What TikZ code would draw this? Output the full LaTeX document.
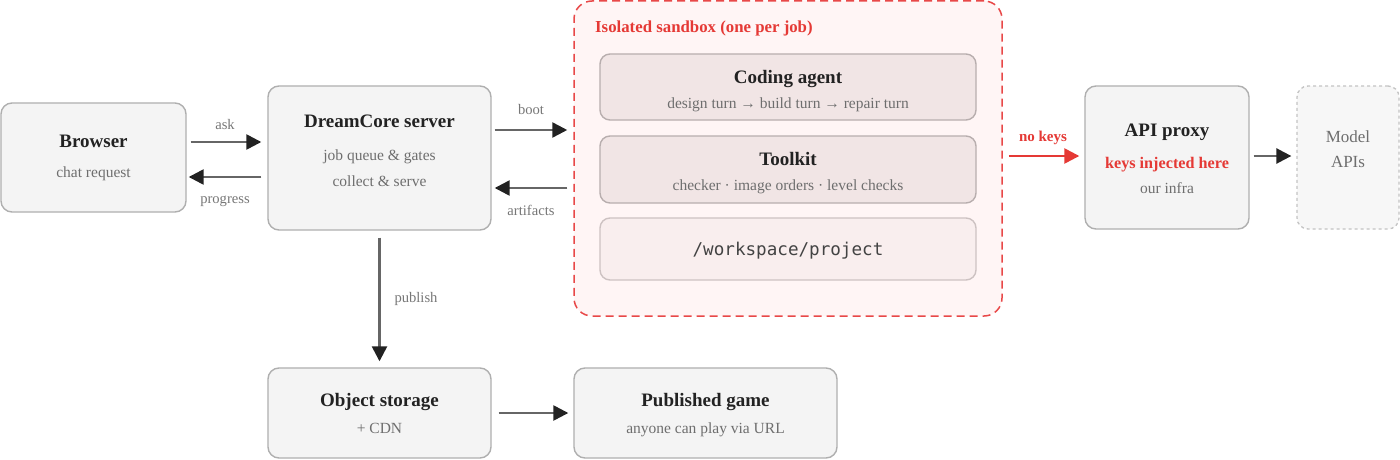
\documentclass[tikz,border=0pt]{standalone}
\usepackage{fontspec}
\setmainfont{Liberation Serif}
\newfontfamily\monofont{DejaVu Sans Mono}
\usetikzlibrary{arrows.meta}
\definecolor{boxfill}{HTML}{F4F4F4}
\definecolor{boxline}{HTML}{AFAFAF}
\definecolor{sbfill}{HTML}{FFF5F5}
\definecolor{sbred}{HTML}{E84848}
\definecolor{infill}{HTML}{F1E5E5}
\definecolor{inline}{HTML}{B8AEAE}
\definecolor{wsfill}{HTML}{F9EEEE}
\definecolor{wsline}{HTML}{CDC2C2}
\definecolor{titlec}{HTML}{222222}
\definecolor{subc}{HTML}{6E6E6E}
\definecolor{labc}{HTML}{777777}
\definecolor{redc}{HTML}{E53935}
\definecolor{arrline}{HTML}{666666}
\definecolor{arrhead}{HTML}{222222}
\definecolor{modfill}{HTML}{F7F7F7}
\definecolor{modline}{HTML}{C4C4C4}
\begin{document}
\begin{tikzpicture}[x=1pt,y=-1pt,
  box/.style={draw=boxline,fill=boxfill,line width=1.4pt,rounded corners=11pt,inner sep=0pt},
  inbox/.style={draw=inline,fill=infill,line width=1.4pt,rounded corners=10pt,inner sep=0pt,minimum width=376pt},
  ttl/.style={font=\fontsize{19}{22}\selectfont\bfseries,text=titlec,inner sep=0pt,text height=12.5pt,text depth=0pt},
  sub/.style={font=\fontsize{15.5}{18}\selectfont,text=subc,inner sep=0pt,text height=10pt,text depth=0pt},
  lab/.style={font=\fontsize{14.6}{17}\selectfont,text=labc,inner sep=0pt,text height=9.5pt,text depth=0pt},
  arr/.style={draw=arrline,line width=2.5pt,-{Triangle[length=15pt,width=15pt,color=arrhead]}},
  redarr/.style={draw=redc,line width=2.5pt,-{Triangle[length=15pt,width=15pt,color=redc]}}]
\useasboundingbox[fill=white] (0,0) rectangle (1400,460);

% boxes
\node[box,minimum width=185pt,minimum height=109pt] (browser) at (93.5,157.5) {};
\node[box,minimum width=223pt,minimum height=144pt] (server) at (379.5,158) {};
\node[draw=sbred,fill=sbfill,dash pattern=on 8pt off 5pt,line width=1.5pt,rounded corners=18pt,inner sep=0pt,minimum width=428pt,minimum height=315pt] (sandbox) at (788,158.5) {};
\node[inbox,minimum height=66pt] (agent) at (788,87) {};
\node[inbox,minimum height=67pt] (toolkit) at (788,169.5) {};
\node[inbox,draw=wsline,fill=wsfill,minimum height=62pt] (workspace) at (788,249) {};
\node[box,minimum width=164pt,minimum height=143pt] (proxy) at (1167,157.5) {};
\node[draw=modline,fill=modfill,dashed,line width=1.3pt,rounded corners=11pt,inner sep=0pt,minimum width=102pt,minimum height=143pt] (model) at (1348,157.5) {};
\node[box,minimum width=223pt,minimum height=90pt] (storage) at (379.5,413) {};
\node[box,minimum width=263pt,minimum height=90pt] (game) at (705.5,413) {};

% texts
\node[ttl] (browsert) at (93.5,141) {Browser};
\node[sub] (browsers) at (93.5,172) {chat request};
\node[ttl] (servert) at (379.5,121) {DreamCore server};
\node[sub] (servers1) at (379.5,155) {job queue \& gates};
\node[sub] (servers2) at (379.5,181) {collect \& serve};
\node[font=\fontsize{16.8}{20}\selectfont\bfseries,text=redc,inner sep=0pt,anchor=west,text height=11pt,text depth=0pt] (sbt) at (595,27) {Isolated sandbox (one per job)};
\node[ttl] (agentt) at (788,77) {Coding agent};
\node[sub] (agents) at (788,103) {design turn → build turn → repair turn};
\node[ttl] (toolkitt) at (788,159) {Toolkit};
\node[sub] (toolkits) at (788,185) {checker · image orders · level checks};
\node[font=\monofont\fontsize{17.6}{20}\selectfont,text=titlec!85,inner sep=0pt,text height=12pt,text depth=2pt] (wst) at (788,250) {/workspace/project};
\node[ttl] (proxyt) at (1167,130) {API proxy};
\node[font=\fontsize{16.2}{19}\selectfont\bfseries,text=redc,inner sep=0pt,text height=10.5pt,text depth=0pt] (proxyr) at (1167,163) {keys injected here};
\node[sub] (proxys) at (1167,188) {our infra};
\node[font=\fontsize{17}{20}\selectfont,text=subc,inner sep=0pt,text height=11.5pt,text depth=0pt] (model1) at (1348,137) {Model};
\node[font=\fontsize{17}{20}\selectfont,text=subc,inner sep=0pt,text height=11.5pt,text depth=0pt] (model2) at (1348,162) {APIs};
\node[ttl] (storaget) at (379.5,400) {Object storage};
\node[sub] (storages) at (379.5,428) {+ CDN};
\node[ttl] (gamet) at (705.5,400) {Published game};
\node[sub] (games) at (705.5,428) {anyone can play via URL};

% connectors
\draw[arr,shorten <=4pt,shorten >=6pt] ([yshift=15.5pt]browser.east) -- ([yshift=15.5pt]browser.east -| server.west);
\draw[arr,shorten <=6pt,shorten >=2pt] ([yshift=-19.5pt]browser.east -| server.west) -- ([yshift=-19.5pt]browser.east);
\draw[arr,shorten <=3pt,shorten >=6pt] ([yshift=28pt]server.east) -- ([yshift=28pt]server.east -| sandbox.west);
\draw[arr,shorten <=6pt,shorten >=3pt] ([yshift=-30pt]server.east -| sandbox.west) -- ([yshift=-30pt]server.east);
\draw[arr,shorten <=7pt,shorten >=6pt] (server.south) -- (storage.north);
\draw[arr,shorten <=7pt,shorten >=5pt] (storage.east) -- (game.west);
\draw[redarr,shorten <=6pt,shorten >=5pt] ([yshift=2.5pt]sandbox.east) -- ([yshift=2.5pt]sandbox.east -| proxy.west);
\draw[arr,shorten <=4pt,shorten >=5pt] ([yshift=1.5pt]proxy.east) -- ([yshift=1.5pt]proxy.east -| model.west);

% connector labels
\node[lab] (ask) at (225,125) {ask};
\node[lab] (progress) at (225,199) {progress};
\node[lab] (boot) at (531,110) {boot};
\node[lab] (artifacts) at (531,211) {artifacts};
\node[lab] (publish) at (416,298) {publish};
\node[font=\fontsize{15}{18}\selectfont\bfseries,text=redc,inner sep=0pt,text height=9.5pt,text depth=0pt] (nokeys) at (1043,137) {no keys};
\end{tikzpicture}
\end{document}
